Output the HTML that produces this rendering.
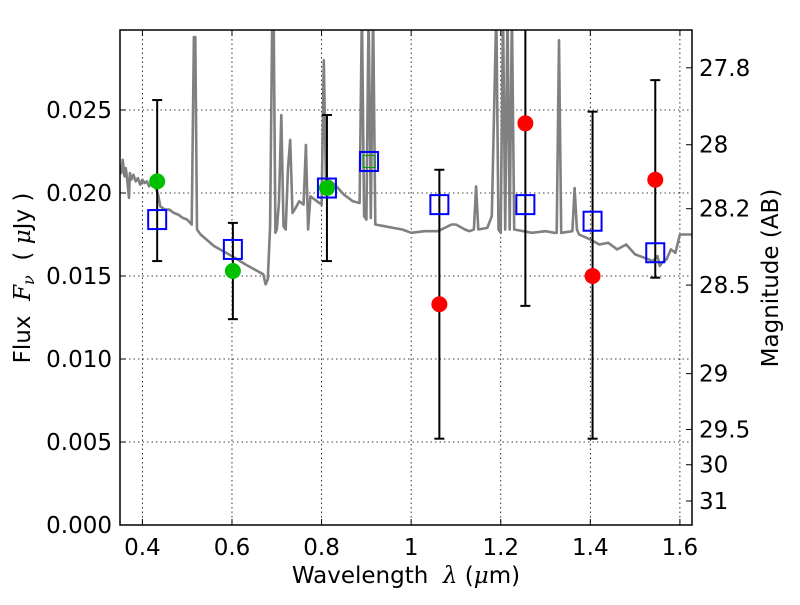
<!DOCTYPE html>
<html><head><meta charset="utf-8"><style>
html,body{margin:0;padding:0;background:#fff;}
svg text{font-family:"DejaVu Sans","Liberation Sans",sans-serif;fill:#000;white-space:pre;}
</style></head><body>
<svg id="chart" width="800" height="600" viewBox="0 0 800 600" xmlns="http://www.w3.org/2000/svg"></svg>
<script>
const xTicks=[0.4,0.6,0.8,1.0,1.2,1.4,1.6];
const xTickLabels=["0.4","0.6","0.8","1","1.2","1.4","1.6"];
const yTicks=[0,0.005,0.010,0.015,0.020,0.025];
const yTickLabels=["0.000","0.005","0.010","0.015","0.020","0.025"];
const magTicks=[27.8,28,28.2,28.5,29,29.5,30,31];
const magTickLabels=["27.8","28","28.2","28.5","29","29.5","30","31"];
const specLam=[
0.35,0.353,0.356,0.36,0.363,0.366,0.37,0.372,0.375,0.38,
0.385,0.39,0.395,0.4,0.405,0.41,0.415,0.42,0.43,0.435,
0.44,0.45,0.46,0.47,0.48,0.49,0.5,0.51,0.515,0.518,
0.522,0.53,0.56,0.6,0.63,0.65,0.67,0.675,0.68,0.685,
0.69,0.693,0.697,0.7,0.705,0.71,0.715,0.72,0.725,0.73,
0.735,0.74,0.75,0.76,0.765,0.77,0.775,0.78,0.79,0.8,
0.805,0.81,0.815,0.83,0.85,0.87,0.885,0.89,0.895,0.9,
0.905,0.91,0.915,0.92,0.94,0.96,0.98,1.0,1.03,1.06,
1.09,1.1,1.12,1.13,1.14,1.145,1.15,1.17,1.18,1.19,
1.195,1.2,1.205,1.21,1.215,1.22,1.225,1.23,1.27,1.3,
1.32,1.325,1.33,1.335,1.36,1.365,1.37,1.375,1.4,1.42,
1.44,1.46,1.48,1.5,1.52,1.54,1.55,1.555,1.56,1.57,
1.58,1.59,1.6,1.63];
const specFlux=[
0.0217,0.0212,0.022,0.021,0.0215,0.0208,0.0197,0.0212,0.0208,0.0211,
0.0207,0.0209,0.0205,0.0208,0.0206,0.0207,0.0204,0.0206,0.0203,0.0199,
0.0192,0.019,0.019,0.0188,0.0187,0.0185,0.0184,0.0181,0.0294,0.0294,
0.0178,0.0175,0.0168,0.0162,0.0157,0.0154,0.0151,0.0145,0.0148,0.018,
0.031,0.031,0.0176,0.0178,0.0195,0.0247,0.018,0.0178,0.0215,0.0232,
0.0188,0.019,0.0195,0.0193,0.0229,0.0178,0.0198,0.0197,0.0195,0.0193,
0.028,0.0205,0.0208,0.0205,0.0199,0.0195,0.0194,0.031,0.0186,0.0184,
0.031,0.0185,0.031,0.0181,0.018,0.0179,0.0178,0.0176,0.0177,0.0177,
0.0181,0.0181,0.0178,0.0177,0.0178,0.0204,0.0178,0.0179,0.0186,0.031,
0.0178,0.0176,0.031,0.0178,0.031,0.0178,0.031,0.0178,0.0176,0.0177,
0.0176,0.0176,0.0292,0.0176,0.0177,0.0203,0.0178,0.0175,0.0172,0.0169,
0.0170,0.0166,0.0169,0.0163,0.0161,0.0159,0.0162,0.0156,0.0158,0.0160,
0.0166,0.0164,0.0175,0.0175];
const filtLam=[0.433,0.602,0.812,0.906,1.063,1.255,1.405,1.545];
const modelFlux=[0.0184,0.0166,0.0203,0.0219,0.0193,0.0193,0.0183,0.0164];
const greenLam=[0.433,0.602,0.812];
const greenFlux=[0.0207,0.0153,0.0203];
const redLam=[1.063,1.255,1.405,1.545];
const redFlux=[0.0133,0.0242,0.0150,0.0208];
const errLam=[0.433,0.602,0.812,1.063,1.255,1.405,1.545];
const errLow=[0.0159,0.0124,0.0159,0.0052,0.0132,0.0052,0.0149];
const errHigh=[0.0256,0.0182,0.0247,0.0214,0.035,0.0249,0.0268];

const L=120,R=692,T=30,B=525;
const xMin=0.35,xMax=1.627,yMin=0,yMax=0.02982;
const sx=v=>L+(v-xMin)/(xMax-xMin)*(R-L);
const sy=v=>B-(v-yMin)/(yMax-yMin)*(B-T);
const magToFlux=m=>Math.pow(10,(23.9-m)/2.5);
const NS="http://www.w3.org/2000/svg";
const svg=document.getElementById('chart');
function mk(tag,attrs,parent){const e=document.createElementNS(NS,tag);for(const k in attrs)e.setAttribute(k,attrs[k]);(parent||svg).appendChild(e);return e;}
const defs=mk('defs',{});const cp=mk('clipPath',{id:'clip'},defs);mk('rect',{x:L,y:T,width:R-L,height:B-T},cp);
const FS=23;
const grid=mk('g',{});


xTicks.forEach((v,i)=>{
  const l=mk('line',{x1:sx(v),x2:sx(v),y1:T,y2:B,stroke:'#000','stroke-width':0.8,'stroke-dasharray':'1.5,3'},grid);
  
  
  const t=mk('text',{x:sx(v),y:555,'text-anchor':'middle','font-size':FS});
  
  
  t.textContent=xTickLabels[i];
  mk('line',{x1:sx(v),x2:sx(v),y1:B,y2:B-6,stroke:'#000'});
  mk('line',{x1:sx(v),x2:sx(v),y1:T,y2:T+6,stroke:'#000'});
});
yTicks.forEach((v,i)=>{
  if(v>0){const l=mk('line',{x1:L,x2:R,y1:sy(v),y2:sy(v),stroke:'#000','stroke-width':0.8,'stroke-dasharray':'1.5,3'},grid);
  
  }
  const t=mk('text',{x:112,y:sy(v)+8,'text-anchor':'end','font-size':FS});
  
  
  t.textContent=yTickLabels[i];
  mk('line',{x1:L,x2:L+6,y1:sy(v),y2:sy(v),stroke:'#000'});
});
magTicks.forEach((m,i)=>{
  const y=sy(magToFlux(m));
  mk('line',{x1:R,x2:R-6,y1:y,y2:y,stroke:'#000'});
  const t=mk('text',{x:699,y:y+8,'text-anchor':'start','font-size':FS});
  
  
  t.textContent=magTickLabels[i];
});

const plot=mk('g',{'clip-path':'url(#clip)'});
let d='';specLam.forEach((v,i)=>{d+=(i?'L':'M')+sx(v).toFixed(1)+','+sy(specFlux[i]).toFixed(1);});
const sp=mk('path',{d:d,fill:'none',stroke:'#808080','stroke-width':2.6,'stroke-linejoin':'round'},plot);



errLam.forEach((v,i)=>{
  const g=mk('g',{stroke:'#000','stroke-width':2},plot);
  
  
  const x=sx(v);
  mk('line',{x1:x,x2:x,y1:sy(errLow[i]),y2:sy(errHigh[i])},g);
  mk('line',{x1:x-5,x2:x+5,y1:sy(errLow[i]),y2:sy(errLow[i])},g);
  mk('line',{x1:x-5,x2:x+5,y1:sy(errHigh[i]),y2:sy(errHigh[i])},g);
});
greenLam.forEach((v,i)=>{
  const c=mk('circle',{cx:sx(v),cy:sy(greenFlux[i]),r:8,fill:'#00c000'},plot);
  
  
});
redLam.forEach((v,i)=>{
  const c=mk('circle',{cx:sx(v),cy:sy(redFlux[i]),r:8,fill:'#ff0000'},plot);
  
  
});
filtLam.forEach((v,i)=>{
  const x=sx(v),y=sy(modelFlux[i]);
  const r=mk('rect',{x:x-9,y:y-9.5,width:18,height:19,fill:'none',stroke:'#0000ff','stroke-width':2},plot);
  
  
});
const gs=mk('rect',{x:sx(0.906)-6,y:sy(0.0219)-6,width:12,height:12,fill:'none',stroke:'#00a000','stroke-width':1},plot);



const fr=mk('rect',{x:L,y:T,width:R-L,height:B-T,fill:'none',stroke:'#000','stroke-width':1.5});



const xl=mk('text',{x:406,y:583,'text-anchor':'middle','font-size':FS});


xl.innerHTML='Wavelength  <tspan font-family="DejaVu Serif" font-style="italic">λ</tspan> (<tspan font-family="DejaVu Serif" font-style="italic">μ</tspan>m)';
const yl=mk('text',{x:0,y:0,'text-anchor':'middle','font-size':FS,transform:'translate(30,278) rotate(-90)'});


yl.innerHTML='Flux  <tspan font-family="DejaVu Serif" font-style="italic">F<tspan font-size="16" dy="4">ν</tspan></tspan><tspan dy="-4">  ( </tspan><tspan font-family="DejaVu Serif" font-style="italic">μ</tspan>Jy )';
const rl=mk('text',{x:0,y:0,'text-anchor':'middle','font-size':FS,transform:'translate(778,278) rotate(-90)'});


rl.textContent='Magnitude (AB)';
</script>
</body></html>
